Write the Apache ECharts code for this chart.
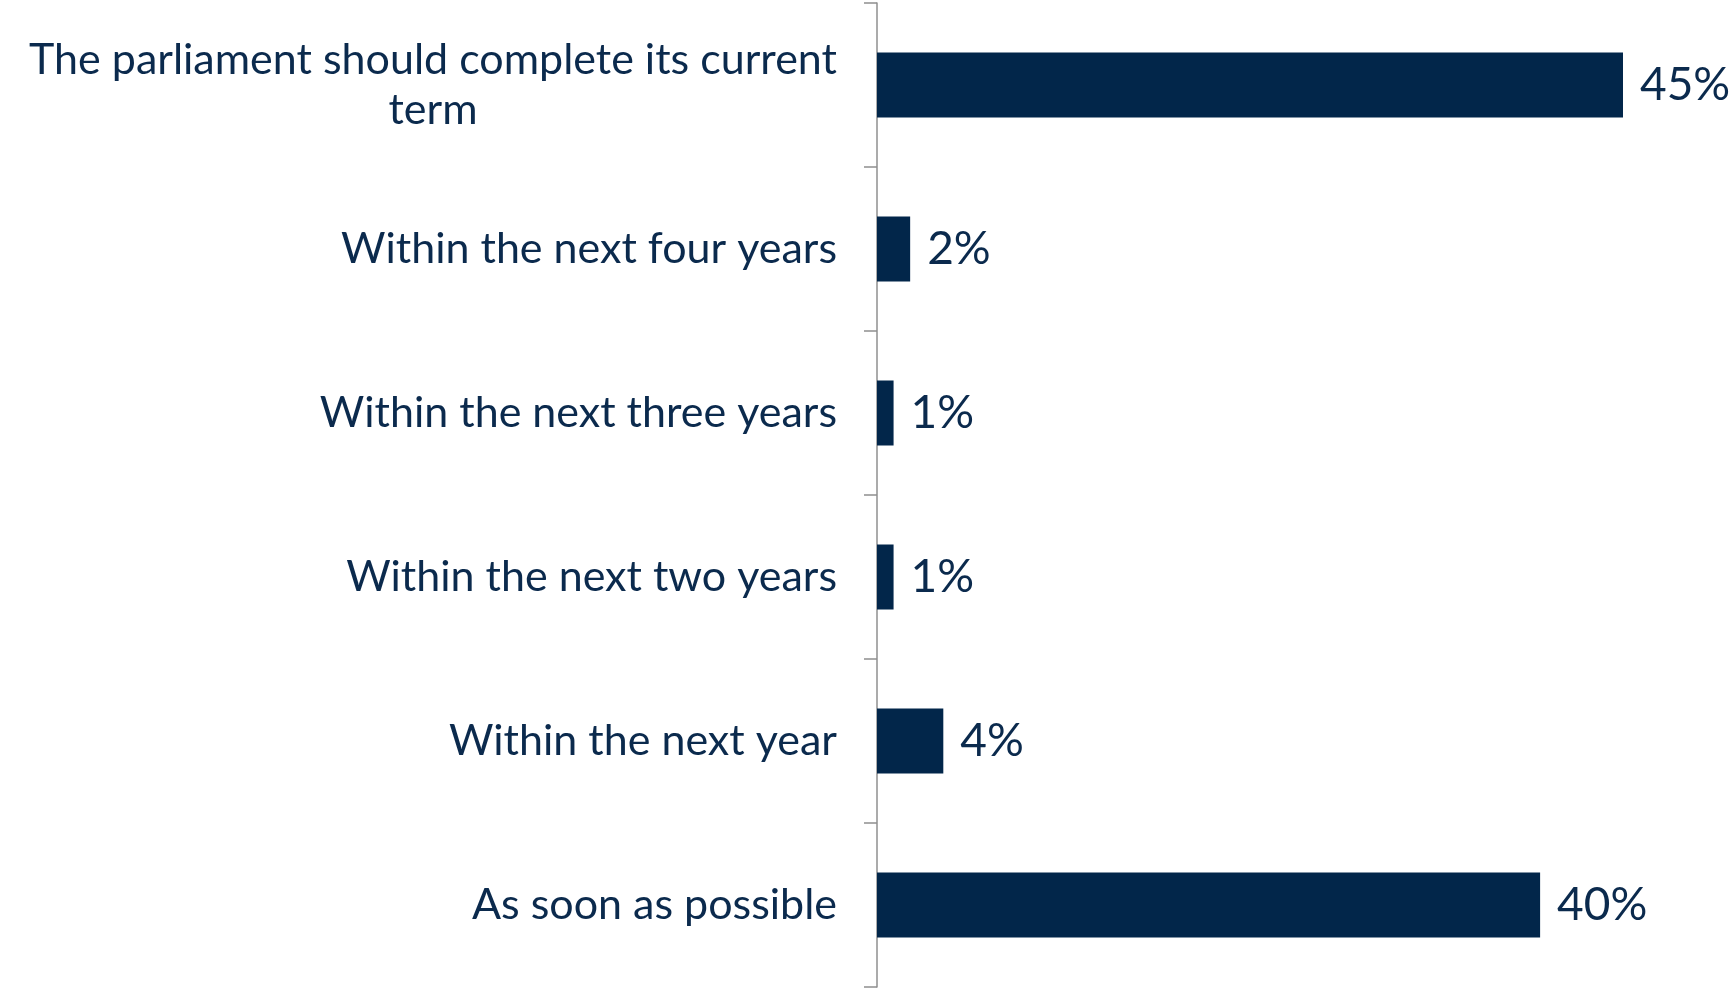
<!DOCTYPE html>
<html>
<head>
<meta charset="utf-8">
<script src="https://cdn.jsdelivr.net/npm/echarts@6/dist/echarts.min.js"></script>
<style>
html,body{margin:0;padding:0;background:#fff;}
#chart{width:1729px;height:990px;}
</style>
</head>
<body>
<div id="chart"></div>
<script>
const categories = [
  'The parliament should complete its current term',
  'Within the next four years',
  'Within the next three years',
  'Within the next two years',
  'Within the next year',
  'As soon as possible'
];
const values = [45, 2, 1, 1, 4, 40];

const FONT = 'Lato';
const CAT_SIZE = 43;
const VAL_SIZE = 46;
const TEXT_COLOR = '#0b2a4d';
const BAR_COLOR = '#02264a';
const MAX_LABEL_W = 850;

const ctx = document.createElement('canvas').getContext('2d');
ctx.font = CAT_SIZE + 'px ' + FONT;
function wrap(text) {
  const words = text.split(' ');
  const lines = [];
  let cur = '';
  words.forEach(w => {
    const t = cur ? cur + ' ' + w : w;
    if (ctx.measureText(t).width > MAX_LABEL_W && cur) { lines.push(cur); cur = w; }
    else cur = t;
  });
  if (cur) lines.push(cur);
  return lines;
}

const chart = echarts.init(document.getElementById('chart'));
chart.setOption({
  animation: false,
  grid: { left: 877, right: 106, top: 3, bottom: 3 },
  xAxis: { type: 'value', min: 0, max: 45, show: false },
  yAxis: {
    type: 'category',
    inverse: true,
    data: categories,
    axisLine: { show: true, lineStyle: { color: '#8f8f8f', width: 1.5 } },
    axisTick: { show: true, length: 13, lineStyle: { color: '#8f8f8f', width: 1.5 } },
    axisLabel: {
      margin: 40,
      color: TEXT_COLOR,
      fontFamily: FONT,
      fontSize: CAT_SIZE,
      lineHeight: 50,
      formatter: function (v) {
        const lines = wrap(v);
        if (lines.length === 1) return v;
        return lines.map(l => '{c|' + l + '}').join('\n');
      },
      rich: {
        c: { fontFamily: FONT, fontSize: CAT_SIZE, color: TEXT_COLOR, lineHeight: 50, align: 'center', width: 0 }
      }
    }
  },
  series: [{
    type: 'bar',
    data: values,
    barWidth: 65,
    itemStyle: { color: BAR_COLOR },
    label: {
      show: true,
      position: 'right',
      distance: 17,
      formatter: '{c}%',
      fontFamily: FONT,
      fontSize: VAL_SIZE,
      color: TEXT_COLOR
    }
  }]
});
const longest = Math.max.apply(null, categories.map(c => {
  const ls = wrap(c);
  return ls.length > 1 ? Math.max.apply(null, ls.map(l => ctx.measureText(l).width)) : 0;
}));
chart.setOption({ yAxis: { axisLabel: { rich: { c: { width: Math.ceil(longest) } } } } });
</script>
</body>
</html>
